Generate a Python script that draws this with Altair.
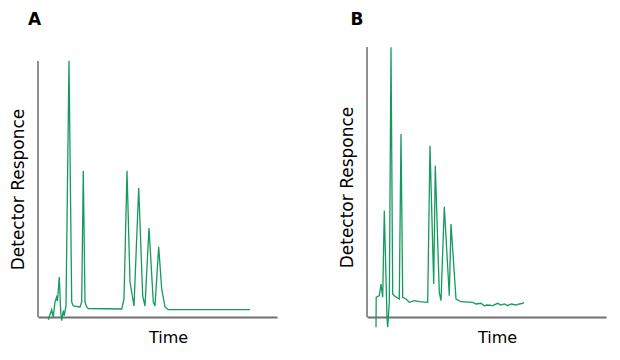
import altair as alt
import pandas as pd

# Panel A chromatogram (time, detector response)
a_time = [10.3, 13.7, 15.3, 17.0, 18.7, 19.5, 21.3, 22.7, 23.7, 25.3, 26.3, 28.0,
          31.0, 33.7, 35.3, 42.0, 43.7, 45.3, 47.0, 48.7, 50.3, 83.7, 86.0, 89.0,
          92.0, 96.0, 100.7, 104.7, 107.0, 111.0, 115.3, 117.0, 120.7, 123.7,
          127.0, 130.3, 212.0]
a_resp = [-2.7, 7.3, 0.0, 15.0, 20.0, 16.0, 40.0, 5.0, -3.7, 6.3, 1.3, 11.3,
          256.3, 15.0, 11.0, 10.0, 15.0, 146.3, 15.0, 10.0, 8.5, 8.0, 18.0, 146.3,
          35.0, 11.0, 129.0, 21.0, 11.0, 89.0, 15.0, 11.0, 70.3, 28.0,
          10.0, 7.3, 7.3]

# Panel B chromatogram
b_time = [9.0, 9.2, 12.3, 14.0, 15.7, 17.3, 20.0, 20.7, 22.3, 24.0, 25.7, 27.3,
          32.3, 34.0, 35.7, 39.0, 42.3, 47.3, 52.3, 60.7, 63.0, 66.7, 68.3, 72.3,
          74.0, 77.3, 82.3, 84.0, 89.0, 94.0, 105.7, 109.0, 114.0, 117.3, 120.7,
          125.7, 130.7, 134.0, 137.3, 140.7, 144.0, 149.0, 152.3, 155.7, 156.7]
b_resp = [-10.3, 19.7, 21.3, 33.0, 19.7, 106.3, -0.3, -10.3, 14.7, 269.7, 23.0, 21.3,
          18.0, 183.0, 19.7, 18.0, 14.7, 16.3, 15.3, 14.7, 171.3, 33.0, 151.3, 24.7,
          16.3, 110.3, 21.3, 93.0, 18.0, 15.3, 14.7, 13.0, 13.7, 11.3, 12.0,
          11.3, 13.7, 12.0, 13.0, 11.3, 13.0, 12.0, 13.0, 13.7, 14.7]

panel_labels = ["A", "B"]
x_title = "Time"
y_title = "Detector Responce"
x_domain = [0, 239]
y_domain = [0, 270]
y_axis_top = [256, 270]

GREEN = "#149a5e"
FONT = "DejaVu Sans"


def panel(label, t, r, ytop, title_y, label_dx):
    df = pd.DataFrame({"t": t, "r": r, "i": list(range(len(t)))})
    x = alt.X("t:Q", scale=alt.Scale(domain=x_domain, nice=False, zero=False),
              axis=alt.Axis(title=x_title, labels=False, ticks=False, grid=False,
                            domainColor="#707070", domainWidth=2,
                            titleFontSize=16, titleFont=FONT, titleFontWeight="normal",
                            titleColor="#000000", titleX=130, titlePadding=12))
    y = alt.Y("r:Q", scale=alt.Scale(domain=y_domain, nice=False, zero=False),
              axis=alt.Axis(title=y_title, labels=False, ticks=False, grid=False,
                            domain=False, titleFontSize=17, titleFont=FONT,
                            titleFontWeight="normal", titleColor="#000000",
                            titleY=title_y, titlePadding=11))
    line = alt.Chart(df).mark_line(color=GREEN, strokeWidth=1.3).encode(
        x=x, y=y, order="i:Q")
    axis_rule = alt.Chart(pd.DataFrame({"k": [0]})).mark_rule(
        color="#222222", strokeWidth=1).encode(
        x=alt.datum(0), y=alt.datum(0), y2=alt.datum(ytop))
    tag = alt.Chart(pd.DataFrame({"k": [0]})).mark_text(
        fontSize=17, fontWeight="bold", font=FONT, align="center",
        baseline="alphabetic", color="#000000").encode(
        text=alt.value(label), x=alt.value(label_dx), y=alt.value(-22))
    return alt.layer(line, axis_rule, tag).properties(width=239, height=270)


pa = panel(panel_labels[0], a_time, a_resp, y_axis_top[0], 142, -3.5)
pb = panel(panel_labels[1], b_time, b_resp, y_axis_top[1], 140, -10)

chart = alt.hconcat(pa, pb, spacing=61).properties(
    padding={"left": 1, "top": 3, "right": 5, "bottom": 5}
).configure_view(stroke=None)

chart.save("out.html", embed_options={"renderer": "svg", "actions": False})
